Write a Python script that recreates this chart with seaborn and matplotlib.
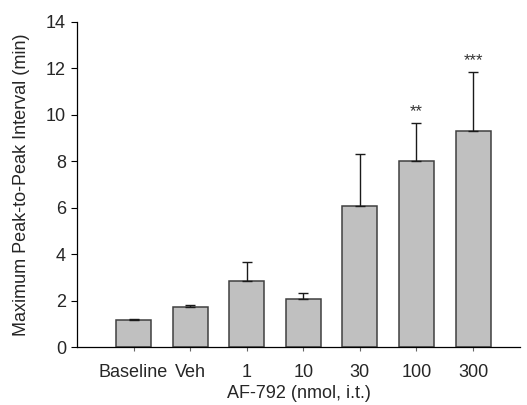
import numpy as np
import pandas as pd
import matplotlib
matplotlib.use("Agg")
from matplotlib import pyplot as plt
import seaborn as sns

# values
groups = ['Baseline', 'Veh', '1', '10', '30', '100', '300']
means = [1.17, 1.72, 2.83, 2.09, 6.09, 8.0, 9.31]
sems = [0.06, 0.08, 0.85, 0.26, 2.22, 1.66, 2.52]
stars = ['', '', '', '', '', '**', '***']

df = pd.DataFrame({'group': groups, 'mean': means, 'sem': sems})

sns.set_style('ticks')
plt.rcParams['font.family'] = ['Liberation Sans', 'DejaVu Sans']

fig = plt.figure(figsize=(5.27, 4.05), dpi=100)
ax = fig.add_axes([77/527, 1-347.3/405, (520-77)/527, (347.3-21.7)/405])

sns.barplot(data=df, x='group', y='mean', order=groups, color='#c0c0c0',
            edgecolor='#404040', linewidth=1.1, width=0.62, saturation=1,
            errorbar=None, ax=ax)

x = np.arange(len(groups))
ax.errorbar(x, df['mean'], yerr=[np.zeros(len(groups)), df['sem']], fmt='none',
            ecolor='#1a1a1a', elinewidth=1.0, capsize=3.7, capthick=1.0)

# significance marks
for xi, m, s, st in zip(x, means, sems, stars):
    if st:
        ax.text(xi, m + s + 0.3, st, ha='center', va='baseline', fontsize=12, color='#333333')

ax.set_xlim(-1, 6.83)
ax.set_ylim(0, 14)
ax.set_yticks(range(0, 15, 2))
ax.set_xlabel('AF-792 (nmol, i.t.)', fontsize=13, labelpad=3)
ax.set_ylabel('Maximum Peak-to-Peak Interval (min)', fontsize=13, labelpad=11)
ax.tick_params(axis='y', labelsize=13, direction='out', length=4, width=0.8, color='black', pad=4)
ax.tick_params(axis='x', labelsize=13, direction='out', length=3, width=0.8, color='#666666', pad=9)
for side in ['top', 'right']:
    ax.spines[side].set_visible(False)
ax.spines['left'].set_linewidth(0.9)
ax.spines['bottom'].set_linewidth(0.9)
ax.spines['left'].set_color('black')
ax.spines['bottom'].set_color('black')

fig.savefig('out.png', dpi=100)
